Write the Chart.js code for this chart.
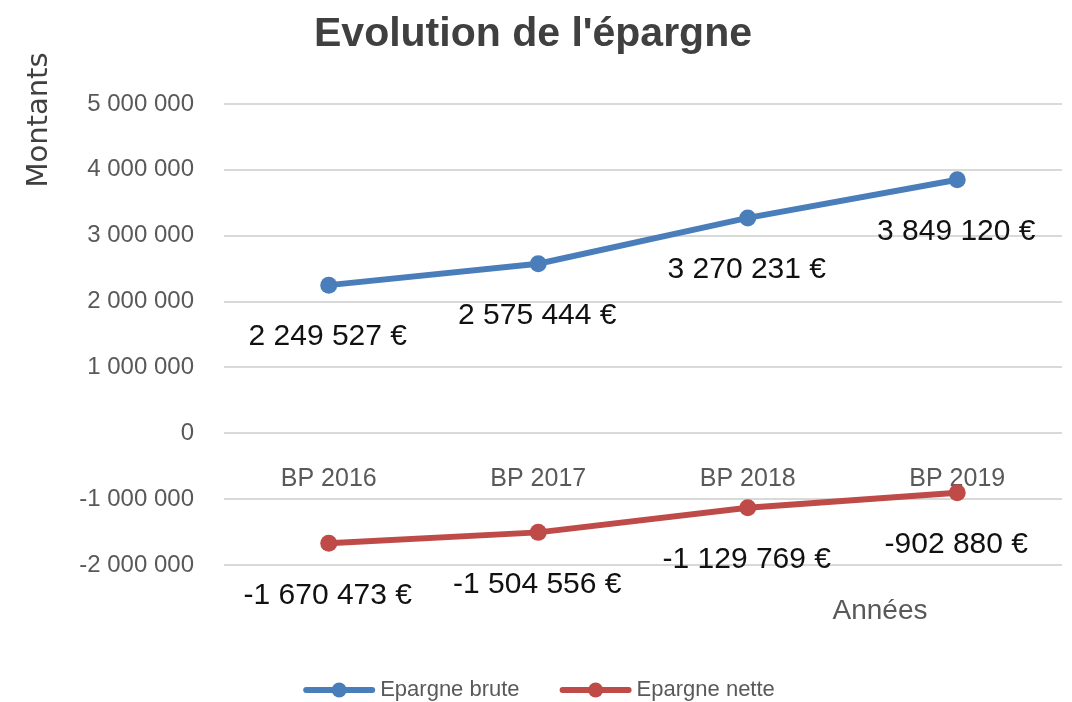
<!DOCTYPE html>
<html><head><meta charset="utf-8">
<script src="https://cdn.jsdelivr.net/npm/chart.js@4/dist/chart.umd.min.js"></script>
<style>html,body{margin:0;padding:0;background:#fff;}#wrap{width:1072px;height:702px;position:relative;}</style>
</head><body><div id="wrap"><canvas id="c" width="1072" height="702"></canvas></div>
<script>
const categories = ['BP 2016', 'BP 2017', 'BP 2018', 'BP 2019'];
const epargneBrute = [2249527, 2575444, 3270231, 3849120];
const epargneNette = [-1670473, -1504556, -1129769, -902880];
const seriesNames = ['Epargne brute', 'Epargne nette'];
const seriesColors = ['#4A7EBB', '#BE4B48'];
const yMin = -2000000, yMax = 5000000, yStep = 1000000;
const chartTitle = "Evolution de l'épargne";
const yTitle = 'Montants';
const xTitle = 'Années';

const fmt = v => {
  const s = Math.abs(Math.round(v)).toString().replace(/\B(?=(\d{3})+(?!\d))/g, ' ');
  return (v < 0 ? '-' : '') + s;
};
const BASE = 'Liberation Sans, Arial, sans-serif';

const textPlugin = {
  id: 'texts',
  afterDatasetsDraw(chart) {
    const ctx = chart.ctx;
    ctx.save();
    // data labels
    ctx.font = '30px ' + BASE;
    ctx.fillStyle = '#111';
    ctx.textAlign = 'center';
    ctx.textBaseline = 'middle';
    chart.data.datasets.forEach((ds, i) => {
      const meta = chart.getDatasetMeta(i);
      meta.data.forEach((pt, j) => {
        ctx.fillText(fmt(ds.data[j]) + ' €', pt.x - 1, pt.y + 52);
      });
    });
    // title
    ctx.font = 'bold 41px ' + BASE;
    ctx.fillStyle = '#404040';
    ctx.textBaseline = 'alphabetic';
    ctx.fillText(chartTitle, 533, 46);
    // y title
    ctx.save();
    ctx.translate(47, 120);
    ctx.rotate(-Math.PI / 2);
    ctx.font = '29px DejaVu Sans, sans-serif';
    ctx.fillStyle = '#404040';
    ctx.textAlign = 'center';
    ctx.fillText(yTitle, 0, 0);
    ctx.restore();
    // x title
    ctx.font = '28px ' + BASE;
    ctx.fillStyle = '#595959';
    ctx.textAlign = 'center';
    ctx.fillText(xTitle, 880, 619);
    // legend
    ctx.font = '22px ' + BASE;
    const lineW = 72, gapT = 5, gapItem = 40, ly = 690;
    const widths = seriesNames.map(n => lineW + gapT + ctx.measureText(n).width);
    const total = widths.reduce((a, b) => a + b, 0) + gapItem * (widths.length - 1);
    let x = 539 - total / 2;
    seriesNames.forEach((n, i) => {
      ctx.strokeStyle = seriesColors[i];
      ctx.fillStyle = seriesColors[i];
      ctx.lineWidth = 6;
      ctx.lineCap = 'round';
      ctx.beginPath(); ctx.moveTo(x + 3, ly); ctx.lineTo(x + lineW - 3, ly); ctx.stroke();
      ctx.beginPath(); ctx.arc(x + lineW / 2, ly, 7.5, 0, Math.PI * 2); ctx.fill();
      ctx.fillStyle = '#595959';
      ctx.textAlign = 'left';
      ctx.textBaseline = 'middle';
      ctx.fillText(n, x + lineW + gapT, ly);
      x += widths[i] + gapItem;
    });
    ctx.restore();
  }
};

new Chart(document.getElementById('c'), {
  type: 'line',
  data: {
    labels: categories,
    datasets: [
      { label: seriesNames[0], data: epargneBrute, borderColor: seriesColors[0], backgroundColor: seriesColors[0],
        pointBackgroundColor: seriesColors[0], pointBorderWidth: 0, pointRadius: 8.5, borderWidth: 6, tension: 0 },
      { label: seriesNames[1], data: epargneNette, borderColor: seriesColors[1], backgroundColor: seriesColors[1],
        pointBackgroundColor: seriesColors[1], pointBorderWidth: 0, pointRadius: 8.5, borderWidth: 6, tension: 0 }
    ]
  },
  options: {
    responsive: false,
    animation: false,
    devicePixelRatio: 1,
    layout: { padding: { top: 104, bottom: 137, left: 0, right: 10 } },
    plugins: { legend: { display: false }, title: { display: false }, tooltip: { enabled: false } },
    scales: {
      x: {
        position: { y: 0 },
        offset: true,
        grid: { display: false, drawTicks: false },
        border: { display: false },
        ticks: { padding: 31, color: '#595959', font: { family: BASE, size: 25 }, maxRotation: 0 }
      },
      y: {
        min: yMin, max: yMax,
        afterFit(scale) { scale.width = 224; },
        grid: { color: '#D9D9D9', lineWidth: 2, drawTicks: false },
        border: { display: false },
        ticks: { stepSize: yStep, padding: 30, color: '#595959', font: { family: BASE, size: 24 }, callback: v => fmt(v) }
      }
    }
  },
  plugins: [textPlugin]
});
</script></body></html>
